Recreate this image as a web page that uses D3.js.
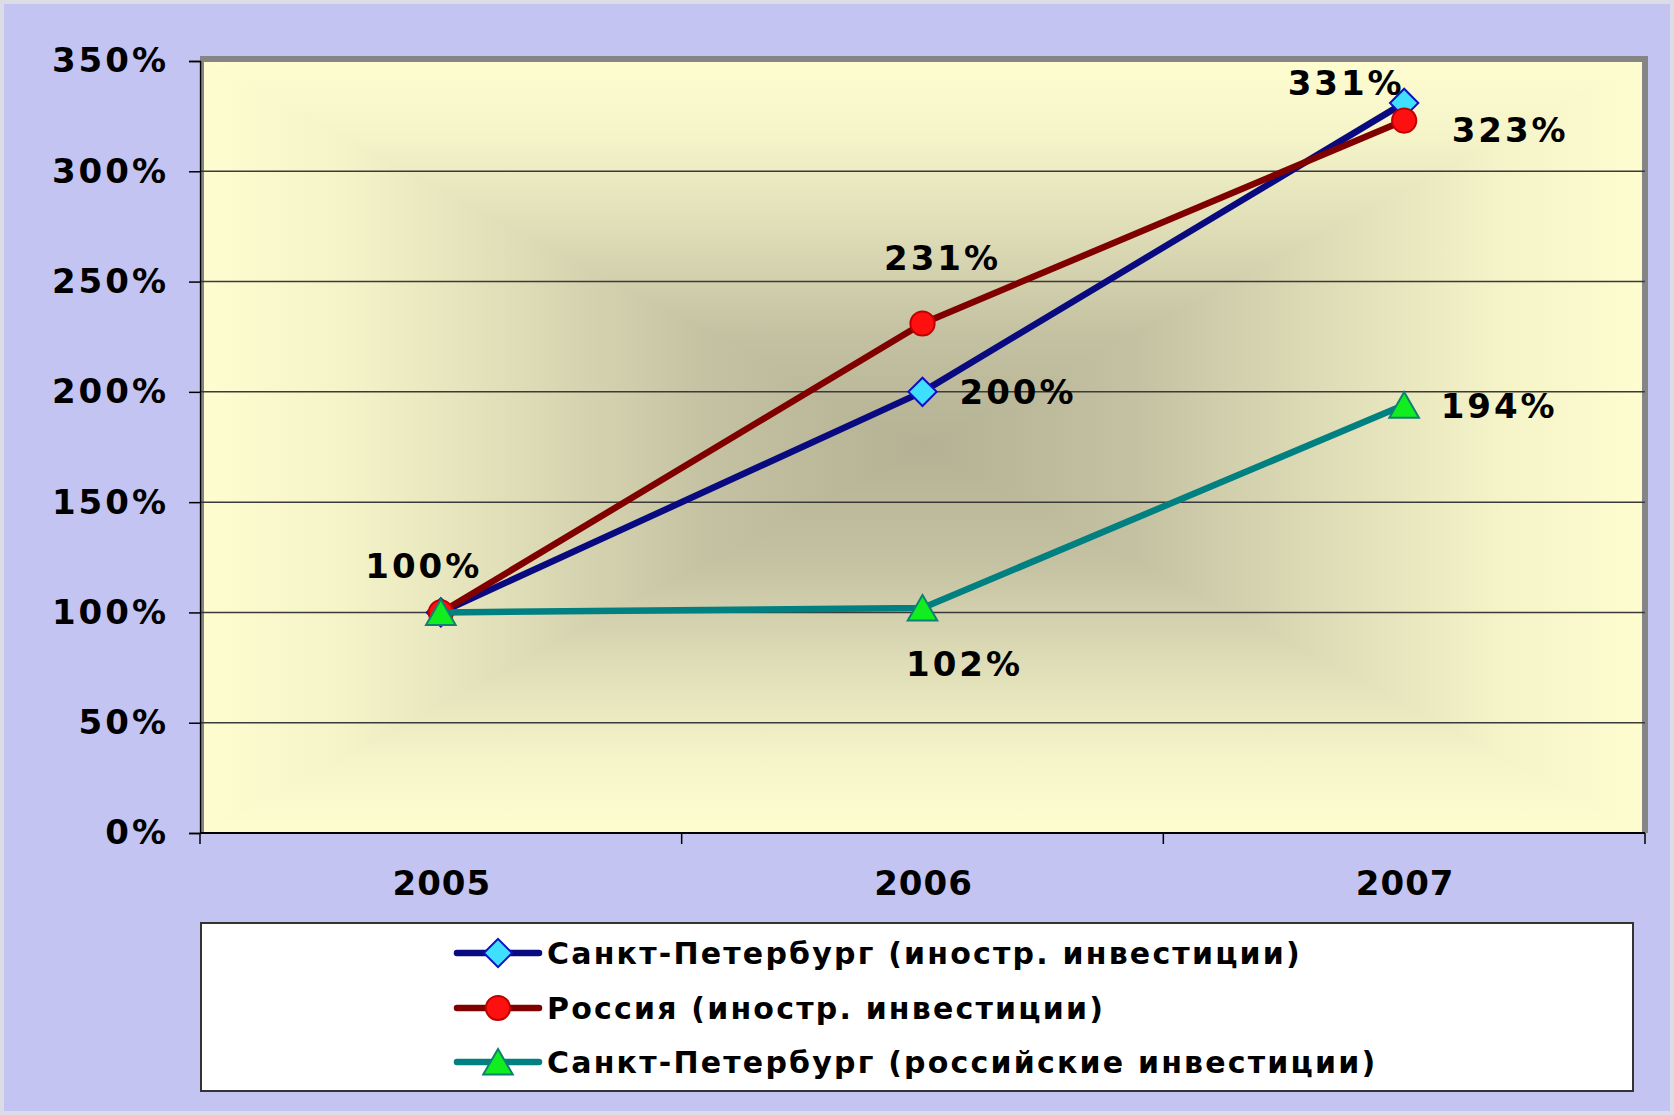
<!DOCTYPE html>
<html>
<head>
<meta charset="utf-8">
<script src="https://cdn.jsdelivr.net/npm/d3@7"></script>
<style>
  html, body { margin: 0; padding: 0; background: #c4c4f2; }
  svg { display: block; }
  text { font-family: "DejaVu Sans", Verdana, sans-serif; font-weight: bold; fill: #000; }
</style>
</head>
<body>
<svg id="chart"></svg>
<script>
// ---- data ----
const years = ['2005', '2006', '2007'];
const spbForeign = [1.00, 2.00, 3.31];
const russiaForeign = [1.00, 2.31, 3.23];
const spbDomestic = [1.00, 1.02, 1.94];
const yTicks = [0, 0.5, 1, 1.5, 2, 2.5, 3, 3.5];
const seriesNames = [
    'Санкт-Петербург (иностр. инвестиции)',
    'Россия (иностр. инвестиции)',
    'Санкт-Петербург (российские инвестиции)'
];

// ---- styling / layout ----
const series = [
    {name: seriesNames[0], values: spbForeign, line: '#0a0a80', fill: '#3fe0ff', stroke: '#1010c0', symbol: 'diamond'},
    {name: seriesNames[1], values: russiaForeign, line: '#800000', fill: '#ff1010', stroke: '#c00000', symbol: 'circle'},
    {name: seriesNames[2], values: spbDomestic, line: '#008080', fill: '#10ee20', stroke: '#108070', symbol: 'triangle'}
];
// label offsets from each point (series index, point index)
const labelOffsets = [
    [null, {dx: 37, dy: 0, anchor: 'start'}, {dx: -58, dy: -20, anchor: 'middle'}],
    [{dx: -17, dy: -47, anchor: 'middle'}, {dx: 20, dy: -66, anchor: 'middle'}, {dx: 106, dy: 9, anchor: 'middle'}],
    [null, {dx: 42, dy: 56, anchor: 'middle'}, {dx: 95, dy: 1, anchor: 'middle'}]
];

const W = 1674, H = 1115;
const plot = {left: 200, right: 1645, top: 61, bottom: 833};

const svg = d3.select('#chart').attr('width', W).attr('height', H);

svg.append('rect')
    .attr('width', W).attr('height', H)
    .attr('fill', '#c4c4f2')
    .attr('stroke', '#dcdce6')
    .attr('stroke-width', 8);

// scales
const x = d3.scaleBand().domain(years).range([plot.left, plot.right]).padding(0);
const y = d3.scaleLinear().domain([0, 3.5]).range([plot.bottom, plot.top]);
const xc = d => x(d) + x.bandwidth() / 2;

// plot wall with "from center" rectangular gradient, built from 4 triangles
const defs = svg.append('defs');
const cx = (plot.left + plot.right) / 2, cy = (plot.top + plot.bottom) / 2;
const stops = [
    [0, '#b4b294'], [0.3, '#c4c2a2'], [0.55, '#dedcb6'], [0.8, '#f5f3c8'], [1, '#fefdd0']
];
const sides = [
    {id: 'gTop', pts: [[plot.left, plot.top], [plot.right, plot.top], [cx, cy]], g: [cx, cy, cx, plot.top]},
    {id: 'gBot', pts: [[plot.left, plot.bottom], [plot.right, plot.bottom], [cx, cy]], g: [cx, cy, cx, plot.bottom]},
    {id: 'gLeft', pts: [[plot.left, plot.top], [plot.left, plot.bottom], [cx, cy]], g: [cx, cy, plot.left, cy]},
    {id: 'gRight', pts: [[plot.right, plot.top], [plot.right, plot.bottom], [cx, cy]], g: [cx, cy, plot.right, cy]}
];
sides.forEach(s => {
    const lg = defs.append('linearGradient')
        .attr('id', s.id)
        .attr('gradientUnits', 'userSpaceOnUse')
        .attr('x1', s.g[0]).attr('y1', s.g[1]).attr('x2', s.g[2]).attr('y2', s.g[3]);
    stops.forEach(st => lg.append('stop').attr('offset', st[0]).attr('stop-color', st[1]));
});
const wall = svg.append('g');
wall.selectAll('polygon')
    .data(sides)
    .join('polygon')
    .attr('points', d => d.pts.map(p => p.join(',')).join(' '))
    .attr('fill', d => `url(#${d.id})`)
    .attr('stroke', d => `url(#${d.id})`)
    .attr('stroke-width', 1);

// gray wall edge (top / right)
svg.append('path')
    .attr('d', `M${plot.left},${plot.top - 2} H${plot.right} V${plot.bottom}`)
    .attr('fill', 'none')
    .attr('stroke', '#858585')
    .attr('stroke-width', 6);
svg.append('line')
    .attr('x1', plot.left + 2).attr('x2', plot.left + 2)
    .attr('y1', plot.top - 4).attr('y2', plot.bottom)
    .attr('stroke', '#858585').attr('stroke-width', 4);

// gridlines
svg.append('g')
    .selectAll('line')
    .data(yTicks.filter(t => t > 0 && t < 3.5))
    .join('line')
    .attr('x1', plot.left).attr('x2', plot.right)
    .attr('y1', d => y(d)).attr('y2', d => y(d))
    .attr('stroke', '#3a3a3a')
    .attr('stroke-width', 1.5);

// y axis
const yAxisG = svg.append('g')
    .attr('transform', `translate(${plot.left},0)`)
    .call(d3.axisLeft(y).tickValues(yTicks).tickFormat(d3.format('.0%')).tickSize(11).tickPadding(20));
yAxisG.select('.domain').attr('stroke', '#000').attr('stroke-width', 1.5);
yAxisG.selectAll('.tick line').attr('stroke', '#000').attr('stroke-width', 1.5);
yAxisG.selectAll('.tick text')
    .attr('font-family', null).attr('font-size', null)
    .style('font-size', '34px')
    .style('letter-spacing', '3px');

// x axis: labels at band centres, ticks at band boundaries
const xAxisG = svg.append('g')
    .attr('transform', `translate(0,${plot.bottom})`)
    .call(d3.axisBottom(x).tickSize(0).tickPadding(0));
xAxisG.select('.domain').remove();
xAxisG.selectAll('.tick text')
    .attr('font-family', null).attr('font-size', null)
    .attr('y', 50).attr('dy', '0.36em').attr('dx', 1)
    .style('font-size', '34px')
    .style('letter-spacing', '1px');
svg.append('line')
    .attr('x1', plot.left).attr('x2', plot.right)
    .attr('y1', plot.bottom).attr('y2', plot.bottom)
    .attr('stroke', '#000').attr('stroke-width', 2);
svg.append('g')
    .selectAll('line')
    .data(years.map(d => x(d)).concat([plot.right]))
    .join('line')
    .attr('x1', d => d).attr('x2', d => d)
    .attr('y1', plot.bottom).attr('y2', plot.bottom + 11)
    .attr('stroke', '#000').attr('stroke-width', 1.5);

// series lines + markers
const line = d3.line().x((d, i) => xc(years[i])).y(d => y(d));

function symbolPath(kind) {
    if (kind === 'diamond') return d3.symbol(d3.symbolSquare, 400)();
    if (kind === 'circle') return d3.symbol(d3.symbolCircle, 460)();
    return d3.symbol(d3.symbolTriangle, 380)();
}
function symbolTransform(kind, px, py) {
    if (kind === 'diamond') return `translate(${px},${py}) rotate(45)`;
    if (kind === 'triangle') return `translate(${px},${py + 4})`;
    return `translate(${px},${py})`;
}

series.forEach(s => {
    const g = svg.append('g');
    g.append('path')
        .attr('d', line(s.values))
        .attr('fill', 'none')
        .attr('stroke', s.line)
        .attr('stroke-width', 6.5)
        .attr('stroke-linejoin', 'round');
    g.selectAll('.mark')
        .data(s.values)
        .join('path')
        .attr('class', 'mark')
        .attr('d', symbolPath(s.symbol))
        .attr('transform', (d, i) => symbolTransform(s.symbol, xc(years[i]), y(d)))
        .attr('fill', s.fill)
        .attr('stroke', s.stroke)
        .attr('stroke-width', 2);
});

// data labels
const labelG = svg.append('g');
series.forEach((s, si) => {
    s.values.forEach((v, i) => {
        const off = labelOffsets[si][i];
        if (!off) return;
        labelG.append('text')
            .attr('x', xc(years[i]) + off.dx)
            .attr('y', y(v) + off.dy)
            .attr('dy', '0.36em')
            .attr('text-anchor', off.anchor)
            .style('font-size', '34px')
            .style('letter-spacing', '3px')
            .text(d3.format('.0%')(v));
    });
});

// legend
const legend = {x: 201, y: 923, w: 1432, h: 168, rowY: [953, 1008, 1062], lineX1: 457, lineX2: 539, textX: 547};
const lg = svg.append('g');
lg.append('rect')
    .attr('x', legend.x).attr('y', legend.y)
    .attr('width', legend.w).attr('height', legend.h)
    .attr('fill', '#fff')
    .attr('stroke', '#333')
    .attr('stroke-width', 2);
const rows = lg.selectAll('.row')
    .data(series)
    .join('g')
    .attr('class', 'row')
    .attr('transform', (d, i) => `translate(0,${legend.rowY[i]})`);
rows.append('line')
    .attr('x1', legend.lineX1).attr('x2', legend.lineX2)
    .attr('stroke', d => d.line)
    .attr('stroke-width', 6.5)
    .attr('stroke-linecap', 'round');
rows.append('path')
    .attr('d', d => symbolPath(d.symbol))
    .attr('transform', d => symbolTransform(d.symbol, (legend.lineX1 + legend.lineX2) / 2, 0))
    .attr('fill', d => d.fill)
    .attr('stroke', d => d.stroke)
    .attr('stroke-width', 2);
rows.append('text')
    .attr('x', legend.textX)
    .attr('dy', '0.36em')
    .style('font-size', '30px')
    .style('letter-spacing', '2.2px')
    .text(d => d.name);
</script>
</body>
</html>
